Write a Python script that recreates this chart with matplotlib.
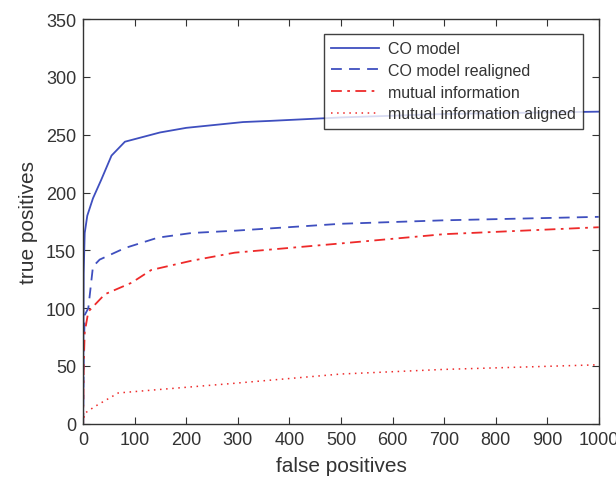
import matplotlib
matplotlib.use("Agg")
import matplotlib.pyplot as plt

plt.rcParams['font.family'] = ['Liberation Sans', 'DejaVu Sans']

co_x = [0, 1, 3, 8, 19, 35, 55, 81, 149, 200, 310, 362, 500, 700, 1000]
co_y = [0, 130, 165, 180, 195, 211, 232, 244, 252, 256, 261, 262, 265, 268, 270]

cor_x = [0, 1, 3, 10, 19, 32, 81, 145, 210, 294, 500, 700, 1000]
cor_y = [0, 60, 94, 100, 136, 142, 152, 161, 165, 167, 173, 176, 179]

mi_x = [0, 1, 3, 10, 42, 94, 132, 210, 294, 500, 700, 1000]
mi_y = [0, 50, 79, 97, 112, 122, 133, 141, 148, 156, 164, 170]

mia_x = [0, 3, 23, 68, 145, 294, 500, 700, 1000]
mia_y = [0, 9, 15, 26.6, 29.5, 35, 43, 47, 51]

blue = '#3f4fbf'
red = '#ee2a2a'

fig = plt.figure(figsize=(6.16, 4.81), dpi=100)
ax = fig.add_axes([0.135, 0.117, 0.837, 0.841])

ax.plot(co_x, co_y, '-', color=blue, lw=1.3, label='CO model')
ax.plot(cor_x, cor_y, '--', color=blue, lw=1.3, dashes=(6, 4), label='CO model realigned')
ax.plot(mi_x, mi_y, '-.', color=red, lw=1.3, dashes=(6, 3, 1.5, 3), label='mutual information')
ax.plot(mia_x, mia_y, ':', color=red, lw=1.1, dashes=(1, 3), label='mutual information aligned')

ax.set_xlim(0, 1000)
ax.set_ylim(0, 350)
ax.set_xticks(range(0, 1001, 100))
ax.set_yticks(range(0, 351, 50))
ax.tick_params(direction='in', top=True, right=True, labelsize=13, length=5, colors='#333333', labelcolor='#333333', pad=5)
for s in ax.spines.values():
    s.set_color('#333333')
    s.set_linewidth(1.0)
ax.set_xlabel('false positives', fontsize=15, color='#333333', labelpad=6)
ax.set_ylabel('true positives', fontsize=15, color='#333333', labelpad=6)

leg = ax.legend(loc='upper right', bbox_to_anchor=(0.97, 0.963), fontsize=11.5, frameon=True, fancybox=False,
                handlelength=3.0, borderpad=0.45, labelspacing=0.42, handletextpad=0.6, borderaxespad=0)
leg.get_frame().set_edgecolor('#111111')
leg.get_frame().set_linewidth(1.0)
for t in leg.get_texts():
    t.set_color('#333333')

fig.savefig('out.png', dpi=100)
